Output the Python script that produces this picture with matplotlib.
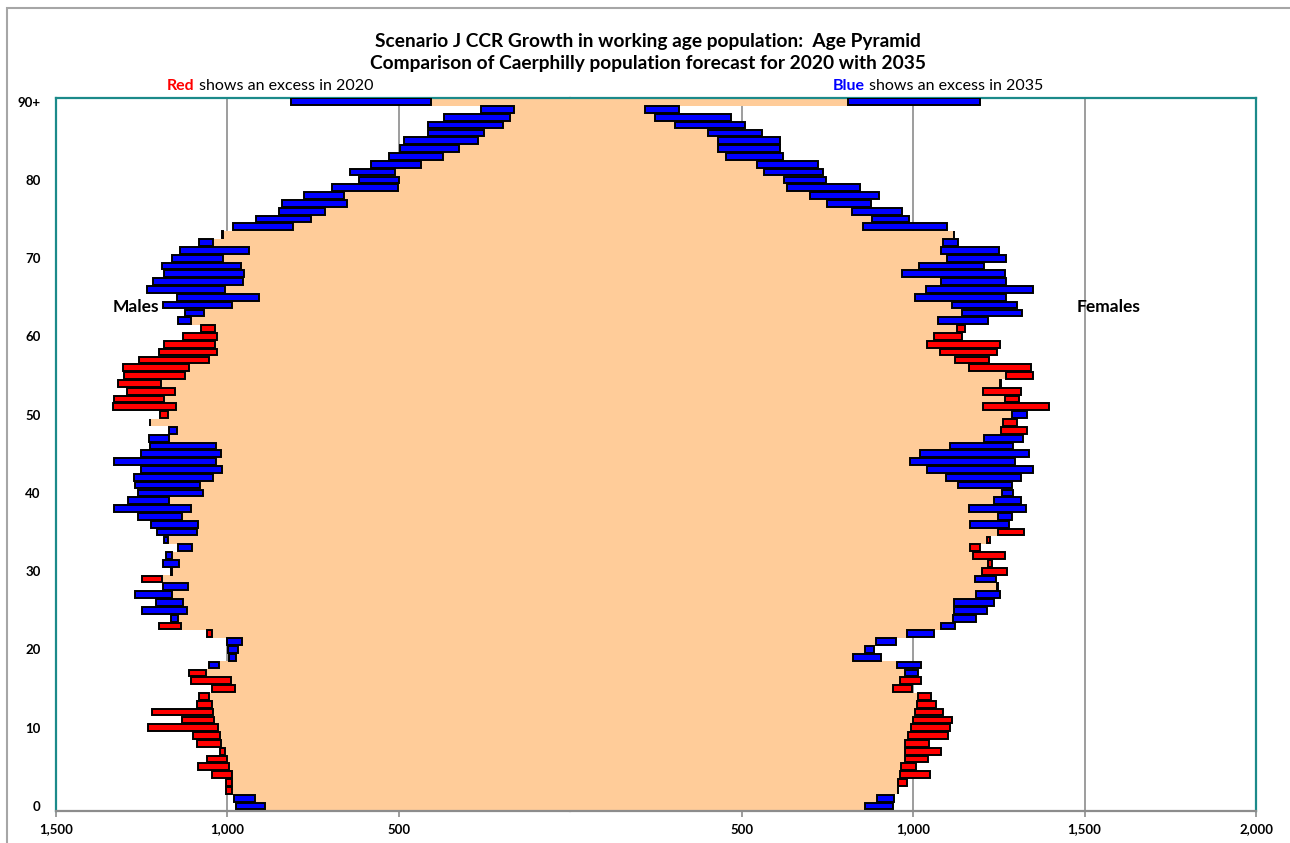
import matplotlib.pyplot as plt
from matplotlib.patches import Rectangle
import numpy as np

plt.rcParams['font.family'] = ['Lato', 'DejaVu Sans']

# ages 0..90 (90 = 90+)
ages = list(range(91))
age_ticks = [0, 10, 20, 30, 40, 50, 60, 70, 80, 90]
age_labels = ['0', '10', '20', '30', '40', '50', '60', '70', '80', '90+']

# males
m2020 = [890, 921, 1005, 1003, 1044, 1087, 1059, 1023, 1089, 1101,
         1231, 1133, 1219, 1089, 1084, 1046, 1105, 1112, 1025, 974,
         969, 957, 1059, 1199, 1143, 1117, 1129, 1161, 1115, 1250,
         1165, 1141, 1163, 1102, 1174, 1090, 1085, 1132, 1105, 1171,
         1072, 1079, 1043, 1015, 1034, 1018, 1034, 1169, 1146, 1227,
         1198, 1335, 1332, 1293, 1318, 1303, 1306, 1259, 1199, 1186,
         1131, 1076, 1107, 1067, 988, 909, 1008, 954, 952, 959,
         1013, 938, 1043, 1013, 808, 757, 714, 650, 660, 503,
         500, 512, 434, 372, 325, 268, 251, 197, 177, 165, 407]
m2035 = [976, 980, 986, 986, 988, 994, 1000, 1008, 1018, 1023,
         1028, 1038, 1041, 1046, 1055, 977, 991, 1062, 1054, 994,
         998, 1001, 1045, 1135, 1166, 1250, 1209, 1269, 1189, 1190,
         1163, 1188, 1179, 1145, 1185, 1206, 1224, 1261, 1330, 1290,
         1261, 1271, 1273, 1252, 1330, 1252, 1226, 1229, 1169, 1225,
         1174, 1151, 1186, 1153, 1195, 1123, 1113, 1055, 1029, 1036,
         1029, 1037, 1143, 1123, 1188, 1148, 1234, 1217, 1185, 1190,
         1163, 1138, 1084, 1015, 983, 917, 851, 840, 777, 695,
         615, 643, 581, 530, 498, 485, 414, 416, 367, 261, 816]

# females
f2020 = [859, 894, 957, 981, 1048, 1008, 1042, 1080, 1047, 1102,
         1107, 1114, 1087, 1066, 1053, 996, 1024, 977, 953, 824,
         859, 893, 981, 1082, 1115, 1120, 1120, 1183, 1247, 1181,
         1275, 1229, 1268, 1194, 1223, 1322, 1166, 1248, 1162, 1235,
         1259, 1132, 1095, 1041, 992, 1019, 1107, 1208, 1331, 1304,
         1287, 1395, 1310, 1315, 1255, 1351, 1343, 1222, 1244, 1254,
         1142, 1150, 1073, 1143, 1114, 1006, 1038, 1080, 967, 1017,
         1100, 1080, 1086, 1118, 855, 880, 821, 750, 700, 631,
         624, 565, 545, 455, 432, 432, 403, 305, 247, 219, 810]
f2035 = [940, 945, 956, 957, 962, 966, 976, 976, 976, 985,
         994, 999, 1004, 1011, 1014, 940, 961, 1013, 1022, 905,
         886, 950, 1060, 1121, 1182, 1215, 1235, 1252, 1245, 1241,
         1201, 1218, 1174, 1166, 1215, 1248, 1279, 1287, 1328, 1315,
         1292, 1287, 1314, 1349, 1298, 1339, 1292, 1321, 1255, 1262,
         1331, 1205, 1267, 1203, 1253, 1272, 1164, 1122, 1078, 1041,
         1061, 1129, 1217, 1318, 1304, 1270, 1349, 1270, 1267, 1207,
         1272, 1250, 1131, 1119, 1100, 989, 967, 878, 900, 845,
         747, 737, 722, 621, 611, 613, 560, 510, 469, 318, 1196]

xtick_vals = [-1500, -1000, -500, 500, 1000, 1500, 2000]
xtick_labels = ['1,500', '1,000', '500', '500', '1,000', '1,500', '2,000']

peach = '#FFCC99'
teal = '#1b8a8a'
grey = '#8c8c8c'

fig = plt.figure(figsize=(12.9, 8.43), dpi=100)
ax = fig.add_axes([56/1290, 1-811/843, 1200/1290, 713.3/843])
ax.set_xlim(-1500, 2000)
ax.set_ylim(-0.64, 90.5)

for v in xtick_vals[1:-1]:
    ax.axvline(v, color=grey, lw=1.2, zorder=0)


def draw_side(y20, y35, sign):
    a20 = np.array(y20)
    a35 = np.array(y35)
    lo = np.minimum(a20, a35)
    hi = np.maximum(a20, a35)
    cols = np.where(a20 > a35, '#FF0000', '#0000FF')
    # common part
    ax.barh(ages, sign*lo, height=1.0, color=peach, lw=0, zorder=2)
    # excess part
    ax.barh(ages, sign*(hi-lo), left=sign*lo, height=0.86, color=cols,
            edgecolor='black', lw=1.4, zorder=3)


draw_side(m2020, m2035, -1)
draw_side(f2020, f2035, 1)

ax.set_xticks(xtick_vals, xtick_labels, fontweight='bold', fontsize=9.5)
ax.tick_params(axis='x', length=4, color=grey, width=1.2, pad=5)
ax.set_yticks(age_ticks, age_labels, fontweight='bold', fontsize=9.5)
ax.tick_params(axis='y', length=0, pad=11)

for s in ['left', 'top', 'right']:
    ax.spines[s].set_color(teal)
    ax.spines[s].set_linewidth(1.6)
ax.spines['bottom'].set_color(grey)
ax.spines['bottom'].set_linewidth(1.6)

# centre axis with a tick for every age
sec = ax.secondary_yaxis(1500/3500)
sec.set_yticks(ages)
sec.tick_params(axis='y', length=5, width=1.3, color='black',
                labelleft=False, labelright=False)
for s in ['left', 'right']:
    sec.spines[s].set_linewidth(1.5)
    sec.spines[s].set_color('black')

fig.text(0.502, 0.951, 'Scenario J CCR Growth in working age population:  Age Pyramid',
         ha='center', va='center', fontsize=13.8, fontweight='bold')
fig.text(0.502, 0.925, 'Comparison of Caerphilly population forecast for 2020 with 2035',
         ha='center', va='center', fontsize=13.8, fontweight='bold')

t1 = fig.text(167/1290, 1-86/843, 'Red', color='#FF0000', fontweight='bold',
              fontsize=11.5, va='center', ha='left')
ax.annotate('shows an excess in 2020', xy=(1, 0), xycoords=t1, fontsize=11.5,
            xytext=(3, 0), textcoords='offset points',
            ha='left', va='bottom', annotation_clip=False)
t2 = fig.text(833/1290, 1-86/843, 'Blue', color='#0000FF', fontweight='bold',
              fontsize=11.5, va='center', ha='left')
ax.annotate('shows an excess in 2035', xy=(1, 0), xycoords=t2, fontsize=11.5,
            xytext=(3, 0), textcoords='offset points',
            ha='left', va='bottom', annotation_clip=False)

fig.text(113/1290, 1-307/843, 'Males', fontsize=12.5, fontweight='bold', va='center')
fig.text(1077/1290, 1-307/843, 'Females', fontsize=12.5, fontweight='bold', va='center')

# outer chart border
fig.add_artist(Rectangle((7/1290, -0.05), 1.1, 1.05 - 8/843, transform=fig.transFigure,
                         fill=False, ec='#a6a6a6', lw=1.5))

fig.savefig('out.png', dpi=100)
